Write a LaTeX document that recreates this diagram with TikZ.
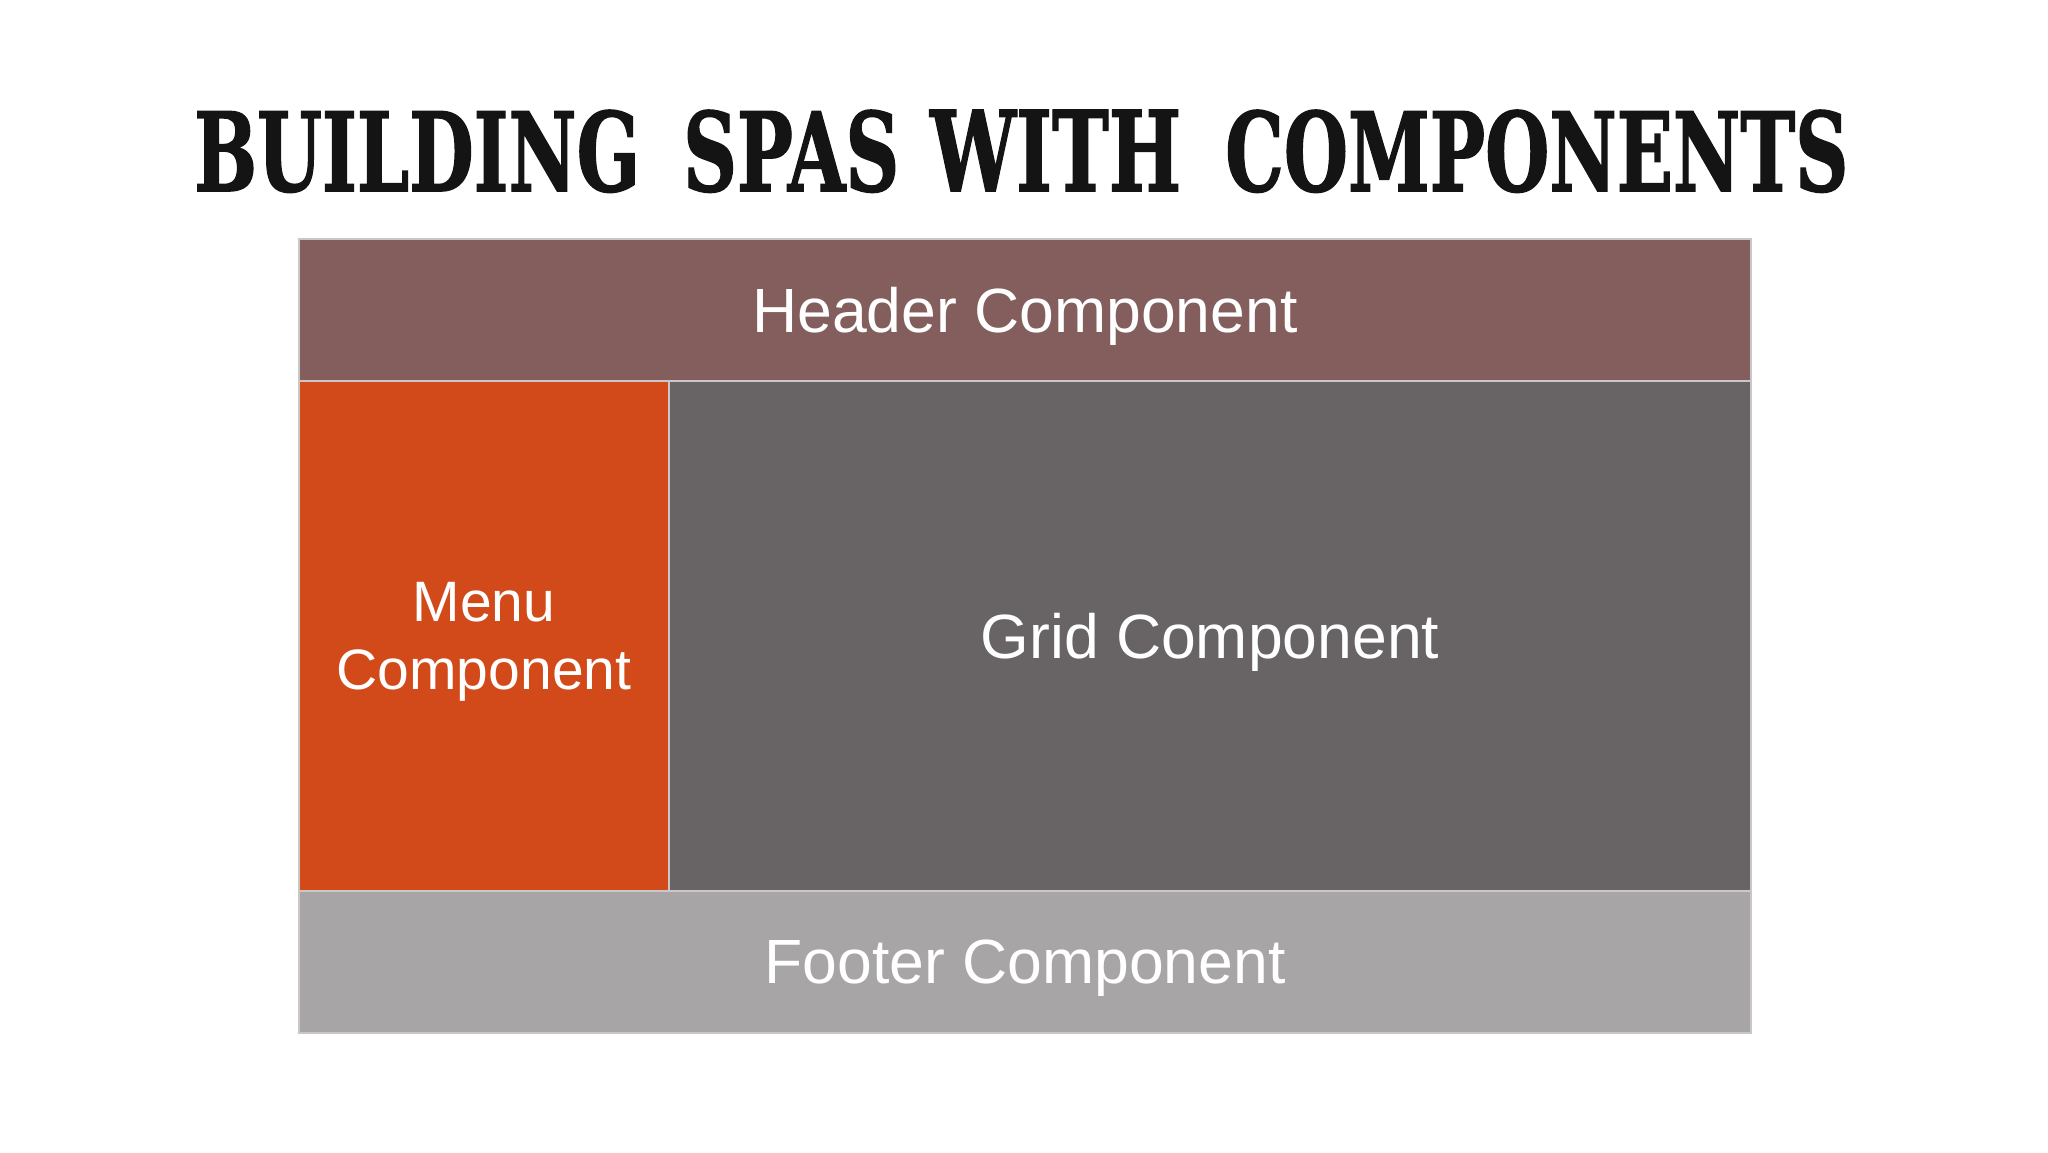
\documentclass[tikz,border=0pt]{standalone}
\usepackage{fontspec}
\setmainfont{Liberation Sans}
\newfontfamily\titlefont{DejaVu Serif}[BoldFeatures={FakeBold=1.5}]
\usepackage{graphicx}
\definecolor{hdr}{HTML}{845D5D}
\definecolor{menu}{HTML}{D24A1A}
\definecolor{grid}{HTML}{686465}
\definecolor{ftr}{HTML}{A7A5A6}
\definecolor{edge}{HTML}{CBC7C7}
\definecolor{ttl}{HTML}{141414}
\tikzset{
  panel/.style={draw=edge, line width=1.5pt, inner sep=0pt, text=white, align=center,
    text depth=0pt, font=\fontsize{62.5}{75}\selectfont},
  tword/.style={anchor=base west, inner sep=0pt, text=ttl}
}
\begin{document}
\begin{tikzpicture}[x=1pt,y=-1pt]
\useasboundingbox[fill=white] (0,0) rectangle (2048,1152);
% title
\node[tword] (t1) at (194,191) {\resizebox{446pt}{81pt}{\titlefont\bfseries BUILDING}};
\node[tword] (t2) at (683,191) {\resizebox{216pt}{81pt}{\titlefont\bfseries SPAS}};
\node[tword] (t3) at (930,191) {\resizebox{251pt}{81pt}{\titlefont\bfseries WITH}};
\node[tword] (t4) at (1225,191) {\resizebox{623pt}{81pt}{\titlefont\bfseries COMPONENTS}};
% panels
\node[panel, fill=hdr, minimum width=1452pt, minimum height=142pt] (header) at (1025,310) {Header Component};
\node[panel, fill=menu, minimum width=370pt, minimum height=510pt,
  font=\fontsize{57}{68}\selectfont] (menu) at (484,636) {Menu\\Component};
\node[panel, fill=grid, minimum width=1082pt, minimum height=510pt] (grid) at (1210,636) {Grid Component};
\node[panel, fill=ftr, minimum width=1452pt, minimum height=142pt] (footer) at (1025,962) {Footer Component};
\end{tikzpicture}
\end{document}
